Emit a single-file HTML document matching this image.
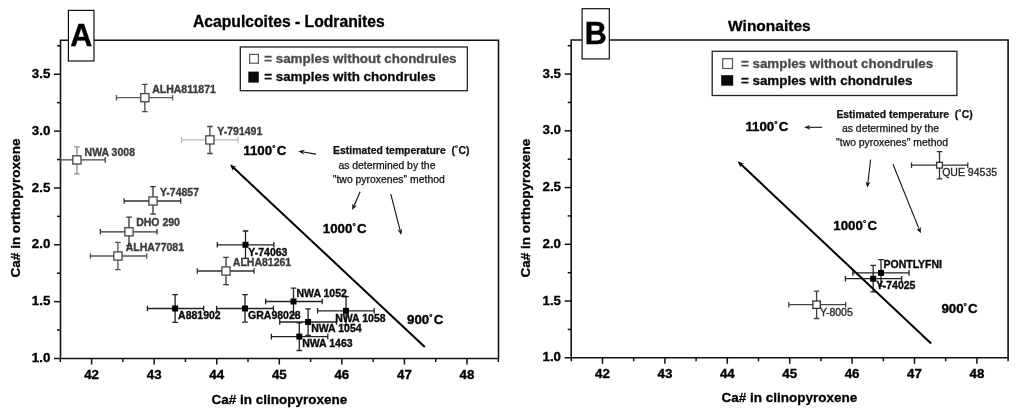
<!DOCTYPE html><html><head><meta charset="utf-8"><style>html,body{margin:0;padding:0;background:#fff;}svg{display:block;filter:grayscale(1) blur(0.35px);}text{font-family:"Liberation Sans", sans-serif;}</style></head><body>
<svg width="1024" height="418" viewBox="0 0 1024 418" font-family='"Liberation Sans", sans-serif'>
<rect width="1024" height="418" fill="#fff"/>
<text x="193.0" y="26.6" font-size="15.7" font-weight="bold" stroke="#000" stroke-width="0.3">Acapulcoites - Lodranites</text>
<path d="M60.5,358.5 V40.2 H68.4 M94.0,40.2 H498.5 V358.5 H60.5" fill="none" stroke="#111" stroke-width="1.6" stroke-linejoin="miter"/>
<rect x="68.4" y="10.4" width="25.599999999999994" height="50.6" fill="#fff" stroke="#111" stroke-width="1.2"/>
<text x="81.2" y="45.5" text-anchor="middle" font-size="30.5" font-weight="bold" fill="#000" stroke="#000" stroke-width="0.4">A</text>
<line x1="54.0" y1="358.50" x2="60.5" y2="358.50" stroke="#111" stroke-width="1.5"/>
<text x="50.3" y="362.10" text-anchor="end" font-size="13.3" font-weight="bold" stroke="#000" stroke-width="0.35">1.0</text>
<line x1="57.0" y1="330.07" x2="60.5" y2="330.07" stroke="#111" stroke-width="1.5"/>
<line x1="54.0" y1="301.65" x2="60.5" y2="301.65" stroke="#111" stroke-width="1.5"/>
<text x="50.3" y="305.25" text-anchor="end" font-size="13.3" font-weight="bold" stroke="#000" stroke-width="0.35">1.5</text>
<line x1="57.0" y1="273.23" x2="60.5" y2="273.23" stroke="#111" stroke-width="1.5"/>
<line x1="54.0" y1="244.80" x2="60.5" y2="244.80" stroke="#111" stroke-width="1.5"/>
<text x="50.3" y="248.40" text-anchor="end" font-size="13.3" font-weight="bold" stroke="#000" stroke-width="0.35">2.0</text>
<line x1="57.0" y1="216.38" x2="60.5" y2="216.38" stroke="#111" stroke-width="1.5"/>
<line x1="54.0" y1="187.95" x2="60.5" y2="187.95" stroke="#111" stroke-width="1.5"/>
<text x="50.3" y="191.55" text-anchor="end" font-size="13.3" font-weight="bold" stroke="#000" stroke-width="0.35">2.5</text>
<line x1="57.0" y1="159.53" x2="60.5" y2="159.53" stroke="#111" stroke-width="1.5"/>
<line x1="54.0" y1="131.10" x2="60.5" y2="131.10" stroke="#111" stroke-width="1.5"/>
<text x="50.3" y="134.70" text-anchor="end" font-size="13.3" font-weight="bold" stroke="#000" stroke-width="0.35">3.0</text>
<line x1="57.0" y1="102.67" x2="60.5" y2="102.67" stroke="#111" stroke-width="1.5"/>
<line x1="54.0" y1="74.25" x2="60.5" y2="74.25" stroke="#111" stroke-width="1.5"/>
<text x="50.3" y="77.85" text-anchor="end" font-size="13.3" font-weight="bold" stroke="#000" stroke-width="0.35">3.5</text>
<line x1="57.0" y1="45.82" x2="60.5" y2="45.82" stroke="#111" stroke-width="1.5"/>
<line x1="60.30" y1="358.5" x2="60.30" y2="362.0" stroke="#111" stroke-width="1.5"/>
<line x1="91.58" y1="358.5" x2="91.58" y2="364.5" stroke="#111" stroke-width="1.5"/>
<text x="91.58" y="378.80" text-anchor="middle" font-size="13.3" font-weight="bold" stroke="#000" stroke-width="0.35">42</text>
<line x1="122.87" y1="358.5" x2="122.87" y2="362.0" stroke="#111" stroke-width="1.5"/>
<line x1="154.16" y1="358.5" x2="154.16" y2="364.5" stroke="#111" stroke-width="1.5"/>
<text x="154.16" y="378.80" text-anchor="middle" font-size="13.3" font-weight="bold" stroke="#000" stroke-width="0.35">43</text>
<line x1="185.44" y1="358.5" x2="185.44" y2="362.0" stroke="#111" stroke-width="1.5"/>
<line x1="216.73" y1="358.5" x2="216.73" y2="364.5" stroke="#111" stroke-width="1.5"/>
<text x="216.73" y="378.80" text-anchor="middle" font-size="13.3" font-weight="bold" stroke="#000" stroke-width="0.35">44</text>
<line x1="248.01" y1="358.5" x2="248.01" y2="362.0" stroke="#111" stroke-width="1.5"/>
<line x1="279.30" y1="358.5" x2="279.30" y2="364.5" stroke="#111" stroke-width="1.5"/>
<text x="279.30" y="378.80" text-anchor="middle" font-size="13.3" font-weight="bold" stroke="#000" stroke-width="0.35">45</text>
<line x1="310.58" y1="358.5" x2="310.58" y2="362.0" stroke="#111" stroke-width="1.5"/>
<line x1="341.87" y1="358.5" x2="341.87" y2="364.5" stroke="#111" stroke-width="1.5"/>
<text x="341.87" y="378.80" text-anchor="middle" font-size="13.3" font-weight="bold" stroke="#000" stroke-width="0.35">46</text>
<line x1="373.15" y1="358.5" x2="373.15" y2="362.0" stroke="#111" stroke-width="1.5"/>
<line x1="404.44" y1="358.5" x2="404.44" y2="364.5" stroke="#111" stroke-width="1.5"/>
<text x="404.44" y="378.80" text-anchor="middle" font-size="13.3" font-weight="bold" stroke="#000" stroke-width="0.35">47</text>
<line x1="435.72" y1="358.5" x2="435.72" y2="362.0" stroke="#111" stroke-width="1.5"/>
<line x1="467.00" y1="358.5" x2="467.00" y2="364.5" stroke="#111" stroke-width="1.5"/>
<text x="467.00" y="378.80" text-anchor="middle" font-size="13.3" font-weight="bold" stroke="#000" stroke-width="0.35">48</text>
<line x1="498.29" y1="358.5" x2="498.29" y2="362.0" stroke="#111" stroke-width="1.5"/>
<text x="279.3" y="404.0" text-anchor="middle" font-size="13.5" font-weight="bold" stroke="#000" stroke-width="0.3">Ca# in clinopyroxene</text>
<text transform="translate(19.6,208.0) rotate(-90)" text-anchor="middle" font-size="13.5" font-weight="bold" stroke="#000" stroke-width="0.3">Ca# in orthopyroxene</text>
<rect x="240.3" y="47.0" width="227.0" height="43.7" fill="#fff" stroke="#222" stroke-width="1.3"/>
<rect x="249.6" y="54.4" width="8.8" height="8.8" fill="#fff" stroke="#555" stroke-width="1.2"/>
<rect x="248.3" y="71.6" width="10.5" height="11" fill="#0a0a0a"/>
<text x="264.2" y="63.0" font-size="13.4" font-weight="bold" fill="#4a4a4a" stroke="#4a4a4a" stroke-width="0.3">= samples without chondrules</text>
<text x="264.2" y="80.5" font-size="13.4" font-weight="bold" fill="#0a0a0a" stroke="#0a0a0a" stroke-width="0.3">= samples with chondrules</text>
<text x="728.1" y="30.5" font-size="15.5" font-weight="bold" stroke="#000" stroke-width="0.3">Winonaites</text>
<path d="M116.4,97.7 H172.6 M116.4,94.9 V100.5 M172.6,94.9 V100.5" stroke="#5a5a5a" stroke-width="1.3" fill="none"/>
<path d="M144.85,84.4 V111.7 M142.04999999999998,84.4 H147.65 M142.04999999999998,111.7 H147.65" stroke="#4a4a4a" stroke-width="1.3" fill="none"/>
<path d="M60.5,159.9 H105.2 M60.5,157.1 V162.70000000000002 M105.2,157.1 V162.70000000000002" stroke="#444" stroke-width="1.3" fill="none"/>
<path d="M76.9,146.9 V173.9 M74.10000000000001,146.9 H79.7 M74.10000000000001,173.9 H79.7" stroke="#888" stroke-width="1.3" fill="none"/>
<path d="M181.5,139.9 H237.9 M181.5,137.1 V142.70000000000002 M237.9,137.1 V142.70000000000002" stroke="#bbb" stroke-width="1.3" fill="none"/>
<path d="M209.9,126.5 V153.5 M207.1,126.5 H212.70000000000002 M207.1,153.5 H212.70000000000002" stroke="#444" stroke-width="1.3" fill="none"/>
<path d="M124.2,201.0 H180.7 M124.2,198.2 V203.8 M180.7,198.2 V203.8" stroke="#333" stroke-width="1.3" fill="none"/>
<path d="M153.0,186.6 V214.1 M150.2,186.6 H155.8 M150.2,214.1 H155.8" stroke="#333" stroke-width="1.3" fill="none"/>
<path d="M100.4,231.8 H157.0 M100.4,229.0 V234.60000000000002 M157.0,229.0 V234.60000000000002" stroke="#333" stroke-width="1.3" fill="none"/>
<path d="M129.0,217.2 V245.5 M126.2,217.2 H131.8 M126.2,245.5 H131.8" stroke="#333" stroke-width="1.3" fill="none"/>
<path d="M90.4,256.0 H146.7 M90.4,253.2 V258.8 M146.7,253.2 V258.8" stroke="#555" stroke-width="1.3" fill="none"/>
<path d="M117.9,242.3 V269.7 M115.10000000000001,242.3 H120.7 M115.10000000000001,269.7 H120.7" stroke="#555" stroke-width="1.3" fill="none"/>
<path d="M197.3,271.0 H254.1 M197.3,268.2 V273.8 M254.1,268.2 V273.8" stroke="#333" stroke-width="1.3" fill="none"/>
<path d="M226.0,257.3 V284.7 M223.2,257.3 H228.8 M223.2,284.7 H228.8" stroke="#333" stroke-width="1.3" fill="none"/>
<path d="M217.3,244.8 H273.9 M217.3,242.0 V247.60000000000002 M273.9,242.0 V247.60000000000002" stroke="#222" stroke-width="1.3" fill="none"/>
<path d="M245.5,231.0 V258.4 M242.7,231.0 H248.3 M242.7,258.4 H248.3" stroke="#222" stroke-width="1.3" fill="none"/>
<path d="M265.6,301.5 H322.2 M265.6,298.7 V304.3 M322.2,298.7 V304.3" stroke="#222" stroke-width="1.3" fill="none"/>
<path d="M293.5,288.1 V314.9 M290.7,288.1 H296.3 M290.7,314.9 H296.3" stroke="#222" stroke-width="1.3" fill="none"/>
<path d="M216.6,308.5 H273.4 M216.6,305.7 V311.3 M273.4,305.7 V311.3" stroke="#222" stroke-width="1.3" fill="none"/>
<path d="M245.0,294.7 V322.1 M242.2,294.7 H247.8 M242.2,322.1 H247.8" stroke="#222" stroke-width="1.3" fill="none"/>
<path d="M147.4,308.5 H203.7 M147.4,305.7 V311.3 M203.7,305.7 V311.3" stroke="#222" stroke-width="1.3" fill="none"/>
<path d="M175.1,294.7 V322.4 M172.29999999999998,294.7 H177.9 M172.29999999999998,322.4 H177.9" stroke="#222" stroke-width="1.3" fill="none"/>
<path d="M317.6,310.8 H374.2 M317.6,308.0 V313.6 M374.2,308.0 V313.6" stroke="#222" stroke-width="1.3" fill="none"/>
<path d="M346.0,296.7 V324.9 M343.2,296.7 H348.8 M343.2,324.9 H348.8" stroke="#222" stroke-width="1.3" fill="none"/>
<path d="M279.7,322.0 H336.5 M279.7,319.2 V324.8 M336.5,319.2 V324.8" stroke="#222" stroke-width="1.3" fill="none"/>
<path d="M308.1,308.8 V335.5 M305.3,308.8 H310.90000000000003 M305.3,335.5 H310.90000000000003" stroke="#222" stroke-width="1.3" fill="none"/>
<path d="M271.4,336.6 H327.8 M271.4,333.8 V339.40000000000003 M327.8,333.8 V339.40000000000003" stroke="#222" stroke-width="1.3" fill="none"/>
<path d="M299.3,322.9 V350.5 M296.5,322.9 H302.1 M296.5,350.5 H302.1" stroke="#222" stroke-width="1.3" fill="none"/>
<rect x="140.75" y="93.60" width="8.20" height="8.20" fill="#fff" stroke="#444" stroke-width="1.3"/>
<rect x="72.80" y="155.80" width="8.20" height="8.20" fill="#fff" stroke="#444" stroke-width="1.3"/>
<rect x="205.80" y="135.80" width="8.20" height="8.20" fill="#fff" stroke="#444" stroke-width="1.3"/>
<rect x="148.90" y="196.90" width="8.20" height="8.20" fill="#fff" stroke="#444" stroke-width="1.3"/>
<rect x="124.90" y="227.70" width="8.20" height="8.20" fill="#fff" stroke="#444" stroke-width="1.3"/>
<rect x="113.80" y="251.90" width="8.20" height="8.20" fill="#fff" stroke="#444" stroke-width="1.3"/>
<rect x="221.90" y="266.90" width="8.20" height="8.20" fill="#fff" stroke="#444" stroke-width="1.3"/>
<rect x="242.50" y="241.80" width="6" height="6" fill="#000"/>
<rect x="290.50" y="298.50" width="6" height="6" fill="#000"/>
<rect x="242.00" y="305.50" width="6" height="6" fill="#000"/>
<rect x="172.10" y="305.50" width="6" height="6" fill="#000"/>
<rect x="343.00" y="307.80" width="6" height="6" fill="#000"/>
<rect x="305.10" y="319.00" width="6" height="6" fill="#000"/>
<rect x="296.30" y="333.60" width="6" height="6" fill="#000"/>
<text x="152.2" y="93.0" font-size="10.5" font-weight="bold" fill="#3c3c3c" stroke="#3c3c3c" stroke-width="0.35">ALHA811871</text>
<text x="84.6" y="155.5" font-size="10.5" font-weight="bold" fill="#3c3c3c" stroke="#3c3c3c" stroke-width="0.35">NWA 3008</text>
<text x="217.3" y="135.3" font-size="10.5" font-weight="bold" fill="#3c3c3c" stroke="#3c3c3c" stroke-width="0.35">Y-791491</text>
<text x="159.9" y="195.6" font-size="10.5" font-weight="bold" fill="#3c3c3c" stroke="#3c3c3c" stroke-width="0.35">Y-74857</text>
<text x="136.2" y="226.0" font-size="10.5" font-weight="bold" fill="#3c3c3c" stroke="#3c3c3c" stroke-width="0.35">DHO 290</text>
<text x="125.7" y="251.1" font-size="10.5" font-weight="bold" fill="#3c3c3c" stroke="#3c3c3c" stroke-width="0.35">ALHA77081</text>
<text x="232.8" y="266.1" font-size="10.5" font-weight="bold" fill="#3c3c3c" stroke="#3c3c3c" stroke-width="0.35">ALHA81261</text>
<text x="248.3" y="255.8" font-size="10.5" font-weight="bold" fill="#0a0a0a" stroke="#0a0a0a" stroke-width="0.35">Y-74063</text>
<text x="296.5" y="296.5" font-size="10.5" font-weight="bold" fill="#0a0a0a" stroke="#0a0a0a" stroke-width="0.35">NWA 1052</text>
<text x="248.1" y="318.9" font-size="10.5" font-weight="bold" fill="#0a0a0a" stroke="#0a0a0a" stroke-width="0.35">GRA98028</text>
<text x="178.1" y="319.2" font-size="10.5" font-weight="bold" fill="#0a0a0a" stroke="#0a0a0a" stroke-width="0.35">A881902</text>
<text x="335.2" y="321.5" font-size="10.5" font-weight="bold" fill="#0a0a0a" stroke="#0a0a0a" stroke-width="0.35">NWA 1058</text>
<text x="311.2" y="332.4" font-size="10.5" font-weight="bold" fill="#0a0a0a" stroke="#0a0a0a" stroke-width="0.35">NWA 1054</text>
<text x="302.2" y="347.0" font-size="10.5" font-weight="bold" fill="#0a0a0a" stroke="#0a0a0a" stroke-width="0.35">NWA 1463</text>
<line x1="233.28" y1="167.58" x2="424.8" y2="346.9" stroke="#000" stroke-width="2.0"/>
<path d="M230.0,164.5 L236.59,166.97 L233.28,167.58 L232.90,170.91 Z" fill="#000"/>
<text x="243.3" y="155.4" font-size="13.3" font-weight="bold" fill="#000" stroke="#000" stroke-width="0.35">1100<tspan font-size="8" dy="-4">&#176;</tspan><tspan dy="4" dx="1.3">C</tspan></text>
<text x="322.8" y="233.0" font-size="13.3" font-weight="bold" fill="#000" stroke="#000" stroke-width="0.35">1000<tspan font-size="8" dy="-4">&#176;</tspan><tspan dy="4" dx="1.3">C</tspan></text>
<text x="407.0" y="323.7" font-size="13.3" font-weight="bold" fill="#000" stroke="#000" stroke-width="0.35">900<tspan font-size="8" dy="-4">&#176;</tspan><tspan dy="4" dx="1.3">C</tspan></text>
<text x="333.1" y="154.4" font-size="10.4" font-weight="bold" fill="#111" stroke="#111" stroke-width="0.25">Estimated temperature&#160;&#160;(<tspan font-size="7.5" dy="-3">&#176;</tspan><tspan dy="3" dx="0.6">C)</tspan></text>
<text x="338.4" y="168.5" font-size="10.4" fill="#111" stroke="#111" stroke-width="0.25">as determined by the</text>
<text x="332.8" y="182.5" font-size="10.4" fill="#111" stroke="#111" stroke-width="0.25">"two pyroxenes" method</text>
<line x1="316.0" y1="154.1" x2="303.33" y2="152.01" stroke="#111" stroke-width="1.1"/>
<path d="M298.4,151.2 L304.71,149.81 L302.84,151.93 L303.93,154.54 Z" fill="#111"/>
<line x1="360.1" y1="191.8" x2="354.19" y2="205.41" stroke="#111" stroke-width="1.1"/>
<path d="M352.2,210.0 L352.39,203.54 L353.99,205.87 L356.79,205.45 Z" fill="#111"/>
<line x1="390.8" y1="194.2" x2="400.05" y2="230.16" stroke="#111" stroke-width="1.1"/>
<path d="M401.3,235.0 L397.48,229.79 L400.18,230.64 L402.13,228.59 Z" fill="#111"/>
<path d="M571.2,357.8 V40.0 H582.1 M609.3,40.0 H1008.1 V357.8 H571.2" fill="none" stroke="#111" stroke-width="1.6" stroke-linejoin="miter"/>
<rect x="582.1" y="8.7" width="27.199999999999932" height="50.2" fill="#fff" stroke="#111" stroke-width="1.2"/>
<text x="595.7" y="43.8" text-anchor="middle" font-size="30.5" font-weight="bold" fill="#000" stroke="#000" stroke-width="0.4">B</text>
<line x1="564.7" y1="357.80" x2="571.2" y2="357.80" stroke="#111" stroke-width="1.5"/>
<text x="561.0" y="361.40" text-anchor="end" font-size="13.3" font-weight="bold" stroke="#000" stroke-width="0.35">1.0</text>
<line x1="567.7" y1="329.43" x2="571.2" y2="329.43" stroke="#111" stroke-width="1.5"/>
<line x1="564.7" y1="301.05" x2="571.2" y2="301.05" stroke="#111" stroke-width="1.5"/>
<text x="561.0" y="304.65" text-anchor="end" font-size="13.3" font-weight="bold" stroke="#000" stroke-width="0.35">1.5</text>
<line x1="567.7" y1="272.68" x2="571.2" y2="272.68" stroke="#111" stroke-width="1.5"/>
<line x1="564.7" y1="244.30" x2="571.2" y2="244.30" stroke="#111" stroke-width="1.5"/>
<text x="561.0" y="247.90" text-anchor="end" font-size="13.3" font-weight="bold" stroke="#000" stroke-width="0.35">2.0</text>
<line x1="567.7" y1="215.93" x2="571.2" y2="215.93" stroke="#111" stroke-width="1.5"/>
<line x1="564.7" y1="187.55" x2="571.2" y2="187.55" stroke="#111" stroke-width="1.5"/>
<text x="561.0" y="191.15" text-anchor="end" font-size="13.3" font-weight="bold" stroke="#000" stroke-width="0.35">2.5</text>
<line x1="567.7" y1="159.18" x2="571.2" y2="159.18" stroke="#111" stroke-width="1.5"/>
<line x1="564.7" y1="130.80" x2="571.2" y2="130.80" stroke="#111" stroke-width="1.5"/>
<text x="561.0" y="134.40" text-anchor="end" font-size="13.3" font-weight="bold" stroke="#000" stroke-width="0.35">3.0</text>
<line x1="567.7" y1="102.43" x2="571.2" y2="102.43" stroke="#111" stroke-width="1.5"/>
<line x1="564.7" y1="74.05" x2="571.2" y2="74.05" stroke="#111" stroke-width="1.5"/>
<text x="561.0" y="77.65" text-anchor="end" font-size="13.3" font-weight="bold" stroke="#000" stroke-width="0.35">3.5</text>
<line x1="567.7" y1="45.68" x2="571.2" y2="45.68" stroke="#111" stroke-width="1.5"/>
<line x1="571.30" y1="357.8" x2="571.30" y2="361.3" stroke="#111" stroke-width="1.5"/>
<line x1="602.50" y1="357.8" x2="602.50" y2="363.8" stroke="#111" stroke-width="1.5"/>
<text x="602.50" y="378.10" text-anchor="middle" font-size="13.3" font-weight="bold" stroke="#000" stroke-width="0.35">42</text>
<line x1="633.70" y1="357.8" x2="633.70" y2="361.3" stroke="#111" stroke-width="1.5"/>
<line x1="664.90" y1="357.8" x2="664.90" y2="363.8" stroke="#111" stroke-width="1.5"/>
<text x="664.90" y="378.10" text-anchor="middle" font-size="13.3" font-weight="bold" stroke="#000" stroke-width="0.35">43</text>
<line x1="696.10" y1="357.8" x2="696.10" y2="361.3" stroke="#111" stroke-width="1.5"/>
<line x1="727.30" y1="357.8" x2="727.30" y2="363.8" stroke="#111" stroke-width="1.5"/>
<text x="727.30" y="378.10" text-anchor="middle" font-size="13.3" font-weight="bold" stroke="#000" stroke-width="0.35">44</text>
<line x1="758.50" y1="357.8" x2="758.50" y2="361.3" stroke="#111" stroke-width="1.5"/>
<line x1="789.70" y1="357.8" x2="789.70" y2="363.8" stroke="#111" stroke-width="1.5"/>
<text x="789.70" y="378.10" text-anchor="middle" font-size="13.3" font-weight="bold" stroke="#000" stroke-width="0.35">45</text>
<line x1="820.90" y1="357.8" x2="820.90" y2="361.3" stroke="#111" stroke-width="1.5"/>
<line x1="852.10" y1="357.8" x2="852.10" y2="363.8" stroke="#111" stroke-width="1.5"/>
<text x="852.10" y="378.10" text-anchor="middle" font-size="13.3" font-weight="bold" stroke="#000" stroke-width="0.35">46</text>
<line x1="883.30" y1="357.8" x2="883.30" y2="361.3" stroke="#111" stroke-width="1.5"/>
<line x1="914.50" y1="357.8" x2="914.50" y2="363.8" stroke="#111" stroke-width="1.5"/>
<text x="914.50" y="378.10" text-anchor="middle" font-size="13.3" font-weight="bold" stroke="#000" stroke-width="0.35">47</text>
<line x1="945.70" y1="357.8" x2="945.70" y2="361.3" stroke="#111" stroke-width="1.5"/>
<line x1="976.90" y1="357.8" x2="976.90" y2="363.8" stroke="#111" stroke-width="1.5"/>
<text x="976.90" y="378.10" text-anchor="middle" font-size="13.3" font-weight="bold" stroke="#000" stroke-width="0.35">48</text>
<line x1="1008.10" y1="357.8" x2="1008.10" y2="361.3" stroke="#111" stroke-width="1.5"/>
<text x="789.4" y="402.2" text-anchor="middle" font-size="13.5" font-weight="bold" stroke="#000" stroke-width="0.3">Ca# in clinopyroxene</text>
<text transform="translate(530.4,208.2) rotate(-90)" text-anchor="middle" font-size="13.5" font-weight="bold" stroke="#000" stroke-width="0.3">Ca# in orthopyroxene</text>
<rect x="712.2" y="51.3" width="244.69999999999993" height="44.2" fill="#fff" stroke="#222" stroke-width="1.3"/>
<rect x="722.7" y="58.7" width="9.8" height="9.8" fill="#fff" stroke="#555" stroke-width="1.2"/>
<rect x="721.2" y="75.2" width="12" height="10.5" fill="#0a0a0a"/>
<text x="740.9" y="68.0" font-size="13.4" font-weight="bold" fill="#4a4a4a" stroke="#4a4a4a" stroke-width="0.3">= samples without chondrules</text>
<text x="740.9" y="84.5" font-size="13.4" font-weight="bold" fill="#0a0a0a" stroke="#0a0a0a" stroke-width="0.3">= samples with chondrules</text>
<path d="M911.5,165.2 H967.8 M911.5,162.39999999999998 V168.0 M967.8,162.39999999999998 V168.0" stroke="#333" stroke-width="1.3" fill="none"/>
<path d="M939.5,151.6 V178.9 M936.7,151.6 H942.3 M936.7,178.9 H942.3" stroke="#333" stroke-width="1.3" fill="none"/>
<path d="M788.8,304.7 H845.7 M788.8,301.9 V307.5 M845.7,301.9 V307.5" stroke="#444" stroke-width="1.3" fill="none"/>
<path d="M816.6,291.1 V318.5 M813.8000000000001,291.1 H819.4 M813.8000000000001,318.5 H819.4" stroke="#444" stroke-width="1.3" fill="none"/>
<path d="M852.9,272.9 H909.1 M852.9,270.09999999999997 V275.7 M909.1,270.09999999999997 V275.7" stroke="#222" stroke-width="1.3" fill="none"/>
<path d="M881.0,259.6 V286.2 M878.2,259.6 H883.8 M878.2,286.2 H883.8" stroke="#222" stroke-width="1.3" fill="none"/>
<path d="M845.4,278.7 H901.6 M845.4,275.9 V281.5 M901.6,275.9 V281.5" stroke="#222" stroke-width="1.3" fill="none"/>
<path d="M873.2,265.3 V291.9 M870.4000000000001,265.3 H876.0 M870.4000000000001,291.9 H876.0" stroke="#222" stroke-width="1.3" fill="none"/>
<rect x="936.60" y="162.30" width="5.80" height="5.80" fill="#fff" stroke="#333" stroke-width="1.3"/>
<rect x="812.90" y="301.00" width="7.40" height="7.40" fill="#fff" stroke="#333" stroke-width="1.3"/>
<rect x="878.00" y="269.90" width="6" height="6" fill="#000"/>
<rect x="870.20" y="275.70" width="6" height="6" fill="#000"/>
<text x="942.2" y="175.9" font-size="10.5" fill="#2a2a2a" stroke="#2a2a2a" stroke-width="0.35">QUE 94535</text>
<text x="819.9" y="315.6" font-size="10.5" fill="#2a2a2a" stroke="#2a2a2a" stroke-width="0.35">Y-8005</text>
<text x="883.5" y="268.2" font-size="10.5" font-weight="bold" fill="#0a0a0a" stroke="#0a0a0a" stroke-width="0.35">PONTLYFNI</text>
<text x="876.3" y="289.3" font-size="10.5" font-weight="bold" fill="#0a0a0a" stroke="#0a0a0a" stroke-width="0.35">Y-74025</text>
<line x1="740.88" y1="164.29" x2="931.1" y2="343.5" stroke="#000" stroke-width="2.0"/>
<path d="M737.6,161.2 L744.18,163.69 L740.88,164.29 L740.48,167.62 Z" fill="#000"/>
<text x="745.4" y="131.0" font-size="13.3" font-weight="bold" fill="#000" stroke="#000" stroke-width="0.35">1100<tspan font-size="8" dy="-4">&#176;</tspan><tspan dy="4" dx="1.3">C</tspan></text>
<text x="833.3" y="230.0" font-size="13.3" font-weight="bold" fill="#000" stroke="#000" stroke-width="0.35">1000<tspan font-size="8" dy="-4">&#176;</tspan><tspan dy="4" dx="1.3">C</tspan></text>
<text x="941.4" y="312.9" font-size="13.3" font-weight="bold" fill="#000" stroke="#000" stroke-width="0.35">900<tspan font-size="8" dy="-4">&#176;</tspan><tspan dy="4" dx="1.3">C</tspan></text>
<text x="836.4" y="117.9" font-size="10.4" font-weight="bold" fill="#111" stroke="#111" stroke-width="0.25">Estimated temperature&#160;&#160;(<tspan font-size="7.5" dy="-3">&#176;</tspan><tspan dy="3" dx="0.6">C)</tspan></text>
<text x="842.0" y="131.6" font-size="10.4" fill="#111" stroke="#111" stroke-width="0.25">as determined by the</text>
<text x="836.1" y="145.6" font-size="10.4" fill="#111" stroke="#111" stroke-width="0.25">"two pyroxenes" method</text>
<line x1="822.2" y1="127.3" x2="809.20" y2="127.30" stroke="#111" stroke-width="1.1"/>
<path d="M804.2,127.3 L810.20,124.90 L808.70,127.30 L810.20,129.70 Z" fill="#111"/>
<line x1="870.6" y1="159.6" x2="867.88" y2="182.73" stroke="#111" stroke-width="1.1"/>
<path d="M867.3,187.7 L865.62,181.46 L867.82,183.23 L870.38,182.02 Z" fill="#111"/>
<line x1="893.0" y1="164.3" x2="918.93" y2="228.66" stroke="#111" stroke-width="1.1"/>
<path d="M920.8,233.3 L916.33,228.63 L919.12,229.13 L920.78,226.84 Z" fill="#111"/>
</svg></body></html>
